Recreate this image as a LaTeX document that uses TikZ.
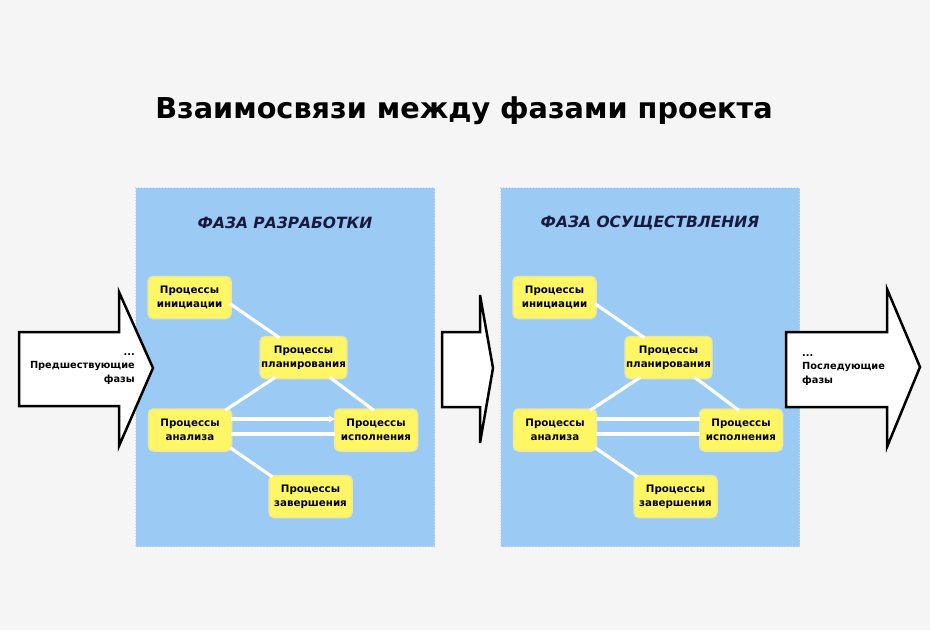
\documentclass[tikz,border=0pt]{standalone}
\usepackage{fontspec}
\setmainfont{DejaVu Sans}
\usetikzlibrary{arrows.meta,calc}
\definecolor{bg}{RGB}{245,245,245}
\definecolor{panel}{RGB}{155,203,245}
\definecolor{paneledge}{RGB}{200,220,240}
\definecolor{boxfill}{RGB}{255,246,102}
\definecolor{boxedge}{RGB}{240,232,150}
\definecolor{navy}{RGB}{25,25,60}
\begin{document}
\begin{tikzpicture}[x=1pt,y=-1pt,
  proc/.style={rounded corners=5pt, fill=boxfill, draw=boxedge, line width=1.5pt,
    minimum width=83pt, minimum height=42pt, align=center, inner sep=1pt,
    font=\bfseries\fontsize{10.3}{14}\selectfont},
  link/.style={white, line width=3.2pt},
  panelbox/.style={fill=panel, draw=paneledge, dotted, line width=1pt,
    minimum width=299pt, minimum height=359pt, anchor=north west, inner sep=0pt},
  phasetitle/.style={font=\bfseries\itshape\fontsize{15.5}{18}\selectfont, text=navy},
  blockarrow/.style={fill=white, draw=black, line width=2.5pt, line join=miter},
  arrowtext/.style={font=\bfseries\fontsize{9.8}{13.5}\selectfont, inner sep=0pt}
]
\useasboundingbox[fill=bg] (0,0) rectangle (930,630);

\node[font=\bfseries\fontsize{28.7}{34}\selectfont] (title) at (464,111) {Взаимосвязи между фазами проекта};

\node[panelbox] (p1) at (135,187) {};
\node[panelbox] (p2) at (500,187) {};
\node[phasetitle] (t1) at (285,223) {ФАЗА РАЗРАБОТКИ};
\node[phasetitle] (t2) at (650,223) {ФАЗА ОСУЩЕСТВЛЕНИЯ};

\foreach \ox/\p in {0/a,365/b}{
  \begin{scope}[xshift=\ox pt]
  \node[proc] (\p init) at (189.5,297.5) {Процессы\\инициации};
  \node[proc] (\p plan) at (303.5,357.5) {Процессы\\планирования};
  \node[proc] (\p anal) at (190,430) {Процессы\\анализа};
  \node[proc] (\p exec) at (376,430) {Процессы\\исполнения};
  \node[proc] (\p comp) at (310.5,496.5) {Процессы\\завершения};
  \end{scope}
}

% connectors
\foreach \p in {a,b}{
  \draw[link] ($(\p init.east)+(-2,6)$) -- ($(\p plan.north west)+(20,2)$);
  \draw[link] ($(\p plan.south west)+(16,-2)$) -- ($(\p anal.north east)+(-7,2)$);
  \draw[link] ($(\p plan.south east)+(-18,-2)$) -- ($(\p exec.north west)+(40,2)$);
  \draw[link] ($(\p anal.east)+(-1,4)$) -- ($(\p exec.west)+(1,4)$);
  \draw[link] ($(\p anal.south east)+(-2,-4)$) -- ($(\p comp.north west)+(4,2)$);
}
\draw[link,-{Stealth[length=6pt,width=7pt]}] ($(aanal.east)+(-1,-11)$) -- ($(aexec.west)+(1,-11)$);
\draw[link] ($(banal.east)+(-1,-11)$) -- ($(bexec.west)+(1,-11)$);

% block arrows
\draw[blockarrow] (19,332) -- (119,332) -- (119,292) -- (153,368) -- (119,446) -- (119,406) -- (19,406) -- cycle;
\draw[blockarrow] (442,332) -- (480,332) -- (480,295) -- (493,368) -- (480,443) -- (480,407) -- (442,407) -- cycle;
\draw[blockarrow] (786,332) -- (887,332) -- (887,289) -- (920,367) -- (887,447) -- (887,407) -- (786,407) -- cycle;

\node[arrowtext, align=right, anchor=east] (prev) at (135,369) {...\\Предшествующие\\фазы};
\node[arrowtext, align=left, anchor=west] (next) at (802,370) {...\\Последующие\\фазы};
\end{tikzpicture}
\end{document}
